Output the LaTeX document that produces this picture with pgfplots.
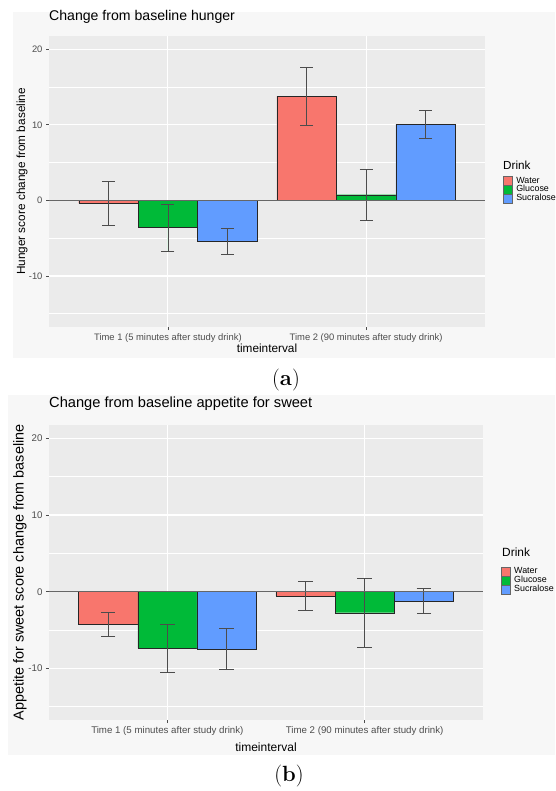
\documentclass[border=0pt]{standalone}
\usepackage{pgfplots}
\pgfplotsset{compat=1.18}
\usepackage{fontspec}
\newfontfamily\lsans{Liberation Sans}
\definecolor{water}{HTML}{F8766D}
\definecolor{glucose}{HTML}{00BA38}
\definecolor{sucra}{HTML}{619CFF}
\definecolor{panel}{HTML}{EBEBEB}
\definecolor{tickgrey}{HTML}{4D4D4D}
\definecolor{plotbg}{HTML}{F7F7F7}
\pgfplotsset{
  gg/.style={
    scale only axis,
    axis background/.style={fill=panel},
    axis line style={draw=none},
    xmin=0.4, xmax=2.6, ymin=-16.75, ymax=21.75,
    xtick={1,2},
    xticklabels={Time 1 (5 minutes after study drink), Time 2 (90 minutes after study drink)},
    ytick={-10,0,10,20},
    minor ytick={-15,-5,5,15},
    grid=both,
    major grid style={draw=white, line width=1.1pt},
    minor grid style={draw=white, line width=0.55pt},
    tick align=outside,
    xtick pos=bottom, ytick pos=left,
    major tick length=3pt, minor tick length=0pt,
    tick style={draw=tickgrey, line width=0.8pt},
    /pgf/number format/assume math mode=true,
    ticklabel style={font=\lsans\fontsize{9.4}{10}\selectfont, text=tickgrey},
    label style={font=\lsans\fontsize{11.8}{12}\selectfont},
    legend cell align=left,
    legend image code/.code={\draw[#1] (0pt,-4.4pt) rectangle (8.8pt,4.4pt);},
    legend style={draw=none, fill=none, anchor=north west, inner sep=0pt,
       font=\lsans\fontsize{8.9}{9}\selectfont, row sep=-1.0pt, column sep=3pt,
       nodes={inner sep=1pt}},
  },
  gbar/.style={ybar, bar width=0.3, bar shift=0pt, draw=black!85, line width=0.45pt, forget plot,
    error bars/.cd, y dir=both, y explicit,
    error bar style={draw=black!70, line width=0.8pt},
    error mark options={rotate=90, draw=black!70, line width=0.8pt, mark size=#1}},
}
\begin{document}
\begin{tikzpicture}[font=\lsans]
\path[use as bounding box, fill=white] (0,0) rectangle (555pt,-791pt);
\fill[plotbg] (13pt,-12pt) rectangle (555pt,-358pt);
\fill[plotbg] (8pt,-395pt) rectangle (555pt,-755pt);

% ---------------- panel (a) ----------------
\begin{axis}[gg, at={(49pt,-327pt)}, anchor=south west, width=436pt, height=291pt,
  title={Change from baseline hunger},
  title style={at={(0,1)}, anchor=base west, yshift=9.3pt, inner sep=0pt, font=\lsans\fontsize{14.1}{15}\selectfont},
  ylabel={Hunger score change from baseline},
  ylabel style={at={(-0.0619,0.5)}, anchor=center},
  xlabel={timeinterval},
  xlabel style={at={(0.5,0)}, anchor=base, yshift=-25pt, inner sep=0pt},
  legend style={at={(1.041,0.52)}},
]
\addplot[fill=water, gbar=6.5pt] coordinates {(0.7,-0.4) +- (0,2.9) (1.7,13.8) +- (0,3.85)};
\addplot[fill=glucose, gbar=6.5pt] coordinates {(1.0,-3.6) +- (0,3.1) (2.0,0.75) +- (0,3.35)};
\addplot[fill=sucra, gbar=6.5pt] coordinates {(1.3,-5.4) +- (0,1.7) (2.3,10.1) +- (0,1.85)};
\addplot[forget plot, draw=black!60, line width=0.6pt] coordinates {(0.4,0) (2.6,0)};
\addlegendimage{fill=water, draw=black!60}\addlegendentry{Water}
\addlegendimage{fill=glucose, draw=black!60}\addlegendentry{Glucose}
\addlegendimage{fill=sucra, draw=black!60}\addlegendentry{Sucralose}
\end{axis}
\node[anchor=base west, inner sep=0pt, font=\lsans\fontsize{11.7}{12}\selectfont] at (503pt,-170pt) {Drink};
\node[anchor=base, inner sep=0pt, font=\normalfont\fontsize{22}{24}\selectfont] at (286pt,-385pt) {(\textbf{a})};

% ---------------- panel (b) ----------------
\begin{axis}[gg, at={(49pt,-720pt)}, anchor=south west, width=434pt, height=295pt,
  ticklabel style={font=\lsans\fontsize{9.7}{10}\selectfont},
  title={Change from baseline appetite for sweet},
  title style={at={(0,1)}, anchor=base west, yshift=11.7pt, inner sep=0pt, font=\lsans\fontsize{14.65}{15}\selectfont},
  ylabel={Appetite for sweet score change from baseline},
  ylabel style={at={(-0.0668,0.5)}, anchor=center, font=\lsans\fontsize{14.4}{15}\selectfont},
  xlabel={timeinterval},
  xlabel style={at={(0.5,0)}, anchor=base, yshift=-31pt, inner sep=0pt, font=\lsans\fontsize{12}{13}\selectfont},
  legend style={at={(1.041,0.52)}},
]
\addplot[fill=water, gbar=7.2pt] coordinates {(0.7,-4.3) +- (0,1.6) (1.7,-0.55) +- (0,1.85)};
\addplot[fill=glucose, gbar=7.2pt] coordinates {(1.0,-7.4) +- (0,3.15) (2.0,-2.75) +- (0,4.5)};
\addplot[fill=sucra, gbar=7.2pt] coordinates {(1.3,-7.5) +- (0,2.7) (2.3,-1.2) +- (0,1.6)};
\addplot[forget plot, draw=black!60, line width=0.6pt] coordinates {(0.4,0) (2.6,0)};
\addlegendimage{fill=water, draw=black!60}\addlegendentry{Water}
\addlegendimage{fill=glucose, draw=black!60}\addlegendentry{Glucose}
\addlegendimage{fill=sucra, draw=black!60}\addlegendentry{Sucralose}
\end{axis}
\node[anchor=base west, inner sep=0pt, font=\lsans\fontsize{11.9}{12}\selectfont] at (502pt,-556.5pt) {Drink};
\node[anchor=base, inner sep=0pt, font=\normalfont\fontsize{22}{24}\selectfont] at (289pt,-781pt) {(\textbf{b})};
\end{tikzpicture}
\end{document}
